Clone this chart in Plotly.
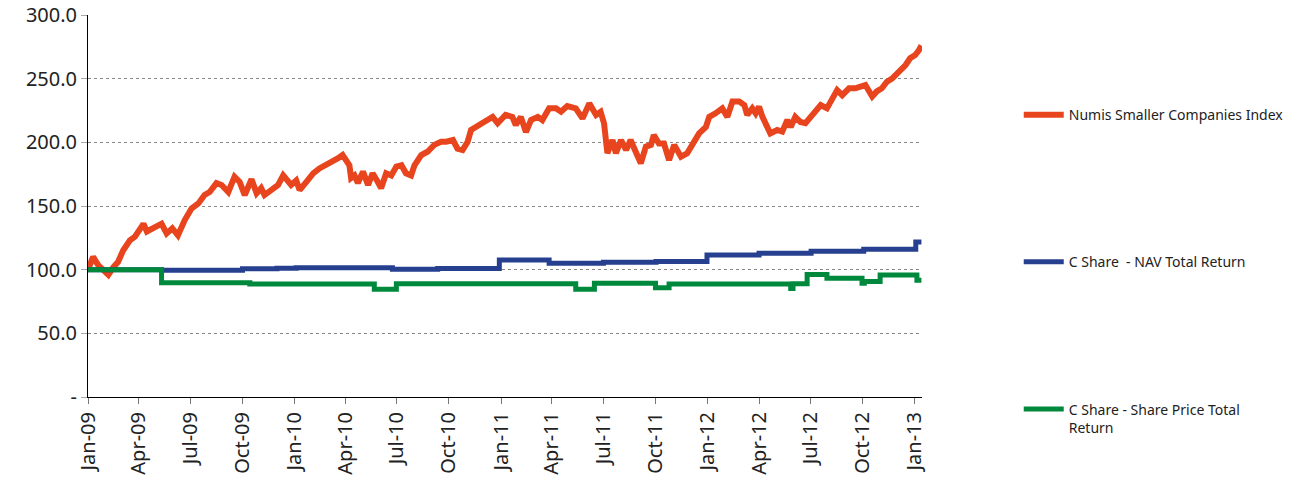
import plotly.graph_objs as go

# Numis Smaller Companies Index
numis_dates = [
    "2009-01-01", "2009-01-10", "2009-01-19", "2009-02-06", "2009-02-15", "2009-02-23",
    "2009-03-04", "2009-03-16", "2009-03-25", "2009-03-31", "2009-04-09", "2009-04-15",
    "2009-04-23", "2009-05-02", "2009-05-11", "2009-05-20", "2009-05-30", "2009-06-09",
    "2009-06-21", "2009-07-03", "2009-07-15", "2009-07-26", "2009-08-04", "2009-08-16",
    "2009-08-25", "2009-09-06", "2009-09-17", "2009-09-26", "2009-10-05", "2009-10-17",
    "2009-10-26", "2009-11-03", "2009-11-09", "2009-11-21", "2009-12-03", "2009-12-12",
    "2009-12-20", "2009-12-26", "2010-01-04", "2010-01-10", "2010-01-22", "2010-02-03",
    "2010-02-14", "2010-02-26", "2010-03-07", "2010-03-19", "2010-03-27", "2010-04-02",
    "2010-04-08", "2010-04-11", "2010-04-17", "2010-04-23", "2010-05-02", "2010-05-11",
    "2010-05-19", "2010-05-28", "2010-06-03", "2010-06-12", "2010-06-21", "2010-06-30",
    "2010-07-09", "2010-07-17", "2010-07-26", "2010-08-01", "2010-08-13", "2010-08-24",
    "2010-09-05", "2010-09-17", "2010-09-26", "2010-10-08", "2010-10-16", "2010-10-25",
    "2010-11-03", "2010-11-09", "2010-11-21", "2010-12-02", "2010-12-17", "2010-12-26",
    "2011-01-09", "2011-01-21", "2011-01-27", "2011-02-05", "2011-02-14", "2011-02-23",
    "2011-03-07", "2011-03-15", "2011-03-27", "2011-04-08", "2011-04-17", "2011-04-28",
    "2011-05-13", "2011-05-25", "2011-06-06", "2011-06-18", "2011-06-26", "2011-07-02",
    "2011-07-08", "2011-07-17", "2011-07-23", "2011-08-01", "2011-08-10", "2011-08-18",
    "2011-08-27", "2011-09-05", "2011-09-14", "2011-09-23", "2011-09-28", "2011-10-07",
    "2011-10-16", "2011-10-25", "2011-11-03", "2011-11-15", "2011-11-26", "2011-12-05",
    "2011-12-17", "2011-12-29", "2012-01-04", "2012-01-15", "2012-01-27", "2012-02-05",
    "2012-02-11", "2012-02-14", "2012-02-26", "2012-03-06", "2012-03-11", "2012-03-20",
    "2012-03-26", "2012-04-01", "2012-04-07", "2012-04-13", "2012-04-21", "2012-05-03",
    "2012-05-12", "2012-05-21", "2012-05-27", "2012-06-04", "2012-06-13", "2012-06-22",
    "2012-07-01", "2012-07-10", "2012-07-19", "2012-07-30", "2012-08-08", "2012-08-17",
    "2012-08-26", "2012-09-07", "2012-09-18", "2012-09-27", "2012-10-06", "2012-10-18",
    "2012-10-26", "2012-11-04", "2012-11-13", "2012-11-22", "2012-12-01", "2012-12-07",
    "2012-12-16", "2012-12-24", "2013-01-02", "2013-01-08", "2013-01-13",
]
numis_values = [
    100.0, 110.0, 103.6, 96.0, 102.0, 106.0,
    115.0, 123.0, 126.0, 131.0, 136.0, 130.0,
    132.5, 134.0, 136.0, 128.5, 132.5, 127.0,
    139.0, 148.0, 152.0, 158.6, 161.0, 168.0,
    166.5, 161.0, 173.0, 169.0, 158.6, 171.0,
    160.0, 164.0, 158.6, 162.5, 166.5, 174.0,
    170.0, 166.5, 170.0, 162.5, 169.0, 175.7,
    179.5, 182.0, 184.8, 187.5, 190.0, 186.0,
    182.0, 172.0, 174.0, 168.0, 177.0, 166.5,
    175.7, 169.0, 164.0, 175.7, 174.0, 181.0,
    182.0, 175.7, 174.0, 182.0, 190.0, 192.6,
    198.0, 200.5, 200.5, 201.8, 195.0, 194.0,
    200.5, 209.7, 213.6, 216.0, 220.0, 215.0,
    221.5, 220.0, 213.6, 220.0, 208.0, 217.5,
    220.0, 217.5, 226.7, 226.7, 224.0, 228.5,
    226.7, 218.8, 230.6, 221.5, 224.0, 215.0,
    191.4, 201.8, 191.4, 201.8, 194.0, 201.8,
    192.6, 183.5, 196.6, 198.0, 205.7, 199.0,
    199.0, 186.0, 198.0, 188.7, 191.4, 199.0,
    207.0, 212.0, 220.0, 222.8, 226.7, 220.0,
    230.6, 232.0, 232.0, 229.3, 221.5, 226.7,
    222.8, 228.0, 220.0, 215.0, 207.0, 209.7,
    208.4, 217.5, 212.0, 220.0, 216.0, 215.0,
    220.0, 224.0, 229.3, 226.7, 233.0, 241.0,
    237.0, 242.4, 242.4, 243.7, 245.0, 236.0,
    240.0, 242.4, 247.6, 250.0, 254.0, 258.0,
    260.7, 266.0, 268.6, 272.0, 276.0,
]

# C Share - NAV Total Return (step series)
nav_dates = [
    "2009-01-01", "2009-05-11", "2009-10-01", "2009-12-01", "2010-01-04", "2010-06-23",
    "2010-09-11", "2010-12-29", "2011-03-27", "2011-07-01", "2011-10-02", "2011-12-31",
    "2012-04-01", "2012-07-02", "2012-10-03", "2013-01-03", "2013-01-13",
]
nav_values = [
    100.0, 99.6, 100.8, 101.2, 101.6, 100.3,
    101.0, 107.6, 105.0, 105.8, 106.5, 111.5,
    112.8, 114.4, 116.0, 121.7, 121.7,
]

# C Share - Share Price Total Return (step series)
price_dates = [
    "2009-01-01", "2009-05-11", "2009-10-14", "2010-05-22", "2010-06-30", "2011-05-13",
    "2011-06-15", "2011-10-01", "2011-10-25", "2012-05-27", "2012-05-31", "2012-06-25",
    "2012-07-30", "2012-09-30", "2012-10-04", "2012-11-01", "2013-01-05", "2013-01-13",
]
price_values = [
    100.0, 89.8, 88.7, 84.6, 89.0, 84.6,
    89.3, 85.8, 88.7, 85.3, 88.9, 96.3,
    93.2, 89.3, 90.8, 95.8, 91.6, 91.6,
]

y_ticks = [0, 50, 100, 150, 200, 250, 300]
y_labels = ["-", "50.0", "100.0", "150.0", "200.0", "250.0", "300.0"]

font = "Noto Sans"

fig = go.Figure()
fig.add_trace(go.Scatter(x=numis_dates, y=numis_values, mode="lines",
                         name="Numis Smaller Companies Index", legendgroup="a",
                         line=dict(color="#E8451F", width=6)))
fig.add_trace(go.Scatter(x=nav_dates, y=nav_values, mode="lines",
                         name="C Share  - NAV Total Return", legendgroup="b",
                         line=dict(color="#26408F", width=5, shape="hv")))
fig.add_trace(go.Scatter(x=price_dates, y=price_values, mode="lines",
                         name="C Share - Share Price Total<br>Return", legendgroup="c",
                         line=dict(color="#00893D", width=5, shape="hv")))

fig.update_layout(
    width=1296, height=480,
    margin=dict(l=88, r=374, t=15, b=83, autoexpand=False),
    plot_bgcolor="white", paper_bgcolor="white",
    font=dict(family=font, color="#222222"),
    showlegend=True,
    legend=dict(x=1.116, y=0.780, xanchor="left", yanchor="top",
                traceorder="grouped", tracegroupgap=126, valign="top",
                font=dict(size=14, family=font, color="#222222"),
                itemwidth=40),
    xaxis=dict(type="date", range=["2009-01-01", "2013-01-14"], automargin=False,
               tick0="2009-01-01", dtick="M3", tickformat="%b-%y",
               tickangle=-90, tickfont=dict(size=20),
               showline=True, linecolor="black", linewidth=1,
               ticks="outside", ticklen=6, tickcolor="#777777",
               showgrid=False, zeroline=False),
    yaxis=dict(range=[0, 300], tickvals=y_ticks, ticktext=y_labels, automargin=False,
               tickfont=dict(size=20),
               showline=True, linecolor="black", linewidth=1,
               ticks="outside", ticklen=6, tickcolor="#aaaaaa",
               showgrid=True, gridcolor="#888888", griddash="dot", gridwidth=1,
               zeroline=False),
)

# page body has a default 8px margin; drop it so the figure fills the window
fig.write_html("out.html", config={"displayModeBar": False},
               post_script="document.body.style.margin='0';")
